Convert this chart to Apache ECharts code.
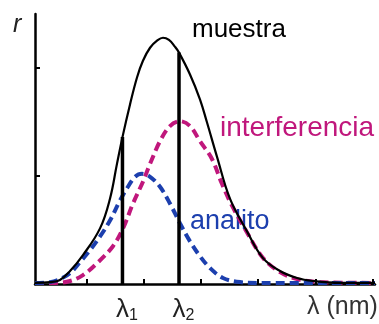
<!DOCTYPE html>
<html>
<head>
<meta charset="utf-8">
<script src="https://cdn.jsdelivr.net/npm/echarts@6/dist/echarts.min.js"></script>
<style>
  html, body { margin: 0; padding: 0; background: #fff; }
  #chart { width: 379px; height: 324px; }
</style>
</head>
<body>
<div id="chart"></div>
<script>
// Wavelength (nm) and relative response of the three spectra
const muestraX = [405, 418.1, 426.8, 435.6, 446.9, 461.8, 470.5, 476.6, 481.4, 488.0, 494.1, 499.3, 505.5, 511.6, 516.8, 522.0, 527.2, 530.8, 540.4, 549.1, 555.2, 564.0, 575.3, 590.2, 604.2, 619.0, 633.9, 647.8, 671.4, 702];
const muestraY = [0.4, 0.7, 1.5, 4.8, 10.7, 20.6, 31.6, 44.5, 54.4, 66.5, 76.5, 82.7, 87.5, 90.1, 91.2, 90.4, 87.9, 85.7, 77.6, 68.4, 59.9, 47.1, 31.6, 19.5, 9.6, 4.8, 2.2, 1.1, 0.4, 0.4];

const interfX = [405, 422.5, 435.6, 446.9, 459.2, 473.1, 481.9, 490.6, 499.3, 505.5, 514.2, 522.9, 531.7, 540.4, 549.1, 559.6, 568.3, 577.1, 590.2, 604.2, 619.0, 633.9, 654.0, 702];
const interfY = [0.4, 0.4, 1.1, 3.3, 7.7, 14.0, 20.6, 29.8, 37.9, 44.5, 52.9, 58.5, 60.3, 58.5, 52.9, 46.3, 37.1, 29.0, 19.1, 9.6, 4.4, 1.8, 0.7, 0.4];

const analitoX = [405, 418.1, 426.8, 435.6, 444.3, 453.0, 461.8, 470.5, 479.2, 486.2, 492.4, 498.5, 505.5, 514.2, 522.9, 531.7, 540.4, 549.1, 557.9, 569.2, 584.1, 601.5, 702];
const analitoY = [0.4, 0.7, 1.8, 4.0, 8.1, 12.5, 17.6, 23.5, 30.9, 36.0, 39.7, 40.8, 39.7, 36.0, 29.8, 22.4, 15.8, 10.3, 5.9, 2.2, 0.7, 0.4, 0.4];

// Selected wavelengths and the sample response read at each
const lambdaX = [481.4, 530.8];
const lambdaTop = [54.4, 85.7];
const lambdaLabels = ['1', '2'];

// Axis tick positions
const xTicks = [450, 500, 550, 600, 650, 700];
const yTicks = [40, 80];

const zip = (xs, ys) => xs.map((x, i) => [x, ys[i]]);

const FONT = '"Liberation Sans", Arial, sans-serif';
const MAGENTA = '#C0177C';
const BLUE = '#1C3FAE';

const chart = echarts.init(document.getElementById('chart'), null, { renderer: 'canvas' });

const series = [
  {
    name: 'interferencia', type: 'line', data: zip(interfX, interfY),
    smooth: 0.35, symbol: 'none',
    lineStyle: { color: MAGENTA, width: 4, type: [9, 5] }
  },
  {
    name: 'analito', type: 'line', data: zip(analitoX, analitoY),
    smooth: 0.35, symbol: 'none',
    lineStyle: { color: BLUE, width: 4, type: [9, 5] }
  },
  {
    name: 'muestra', type: 'line', data: zip(muestraX, muestraY),
    smooth: 0.4, symbol: 'none',
    lineStyle: { color: '#000', width: 2.2 }
  }
];

lambdaX.forEach((x, i) => {
  series.push({
    name: 'lambda' + lambdaLabels[i], type: 'line',
    data: [[x, 0], [x, lambdaTop[i]]],
    symbol: 'none',
    lineStyle: { color: '#000', width: 3.5 }
  });
});

chart.setOption({
  animation: false,
  grid: { left: 35, right: 4, top: 14, bottom: 38 },
  xAxis: {
    type: 'value', min: 405, max: 702,
    splitLine: { show: false },
    axisLine: { lineStyle: { color: '#000', width: 2.5 } },
    axisTick: { inside: true, length: 5, customValues: xTicks, lineStyle: { color: '#000', width: 2 } },
    axisLabel: {
      customValues: lambdaX,
      margin: 12,
      padding: [0, 0, 0, 9],
      formatter: (v) => {
        const i = lambdaX.indexOf(v);
        return '{l|λ}{s|' + lambdaLabels[i] + '}';
      },
      rich: {
        l: { fontFamily: FONT, fontSize: 26, color: '#222' },
        s: { fontFamily: FONT, fontSize: 16, color: '#222', padding: [12, 0, 0, 0] }
      }
    }
  },
  yAxis: {
    type: 'value', min: 0, max: 100,
    splitLine: { show: false },
    axisLine: { show: true, lineStyle: { color: '#000', width: 2.5 } },
    axisTick: { show: true, inside: true, length: 5, customValues: yTicks, lineStyle: { color: '#000', width: 2 } },
    axisLabel: { show: false }
  },
  series: series,
  graphic: [
    { type: 'text', x: 13, y: 25, style: { text: 'r', font: 'italic 25px ' + FONT, fill: '#222', verticalAlign: 'middle' } },
    { type: 'text', x: 192, y: 30, style: { text: 'muestra', font: '26px ' + FONT, fill: '#000', verticalAlign: 'middle' } },
    { type: 'text', x: 220, y: 128, style: { text: 'interferencia', font: '28px ' + FONT, fill: MAGENTA, verticalAlign: 'middle' } },
    { type: 'text', x: 190, y: 222, style: { text: 'analito', font: '27px ' + FONT, fill: BLUE, verticalAlign: 'middle' } },
    { type: 'text', x: 307, y: 307, style: { text: 'λ (nm)', font: '25px ' + FONT, fill: '#333', verticalAlign: 'middle' } }
  ]
});
</script>
</body>
</html>
